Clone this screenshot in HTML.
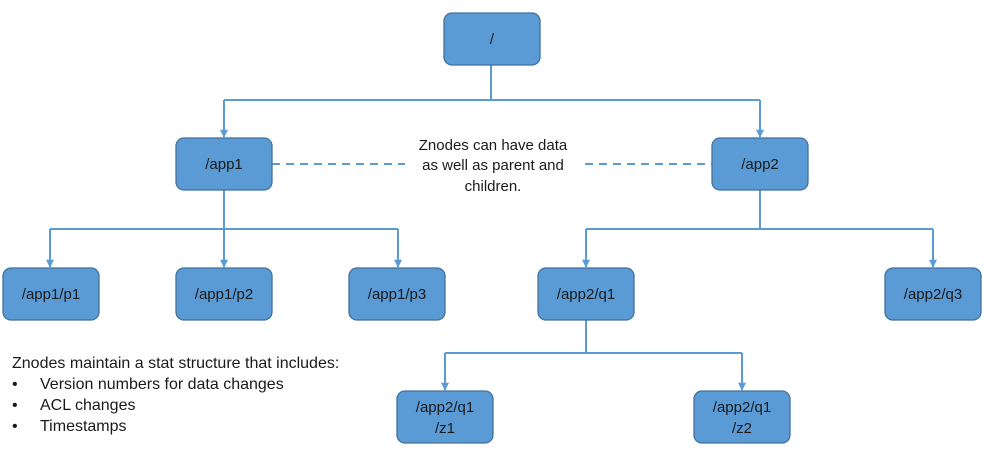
<!DOCTYPE html>
<html><head><meta charset="utf-8"><style>
html,body{margin:0;padding:0;background:#fff;}
svg text{font-family:"Liberation Sans",sans-serif;font-size:15px;fill:#1a1a1a;}
svg text.s{font-size:16px;}
</style></head><body>
<svg width="984" height="469" viewBox="0 0 984 469" xmlns="http://www.w3.org/2000/svg">
<defs>
<marker id="d" viewBox="0 0 10 10" markerWidth="9" markerHeight="8" refX="9" refY="5" orient="auto" markerUnits="userSpaceOnUse"><path d="M0,0 L10,5 L0,10 Z" fill="#5b9bd5"/></marker></defs>
<g stroke="#5b9bd5" stroke-width="2" fill="none">
<path d="M491 65 V100 M224 100 H760"/>
<path d="M224 100 V137" marker-end="url(#d)"/><path d="M760 100 V137" marker-end="url(#d)"/>
<path d="M224 190 V229 M50 229 H398"/>
<path d="M50 229 V267" marker-end="url(#d)"/><path d="M224 229 V267" marker-end="url(#d)"/><path d="M398 229 V267" marker-end="url(#d)"/>
<path d="M760 190 V229 M586 229 H933"/>
<path d="M586 229 V267" marker-end="url(#d)"/><path d="M933 229 V267" marker-end="url(#d)"/>
<path d="M586 320 V353 M445 353 H742"/>
<path d="M445 353 V390" marker-end="url(#d)"/><path d="M742 353 V390" marker-end="url(#d)"/>
<path d="M272 164 H405 M585 164 H712" stroke-dasharray="8,6"/>
</g>
<g fill="#5b9bd5" stroke="#41719c" stroke-width="1.3">
<rect x="444" y="13" width="96" height="52" rx="8"/>
<rect x="176" y="138" width="96" height="52" rx="8"/>
<rect x="712" y="138" width="96" height="52" rx="8"/>
<rect x="3" y="268" width="96" height="52" rx="8"/>
<rect x="176" y="268" width="96" height="52" rx="8"/>
<rect x="349" y="268" width="96" height="52" rx="8"/>
<rect x="538" y="268" width="96" height="52" rx="8"/>
<rect x="885" y="268" width="96" height="52" rx="8"/>
<rect x="397" y="391" width="96" height="52" rx="8"/>
<rect x="694" y="391" width="96" height="52" rx="8"/>
</g>
<g text-anchor="middle">
<text x="492" y="44">/</text>
<text x="224" y="169">/app1</text>
<text x="760" y="169">/app2</text>
<text x="51" y="299">/app1/p1</text>
<text x="224" y="299">/app1/p2</text>
<text x="397" y="299">/app1/p3</text>
<text x="586" y="299">/app2/q1</text>
<text x="933" y="299">/app2/q3</text>
<text x="445" y="412">/app2/q1</text><text x="445" y="433">/z1</text>
<text x="742" y="412">/app2/q1</text><text x="742" y="433">/z2</text>
<text x="493" y="150">Znodes can have data</text>
<text x="493" y="170">as well as parent and</text>
<text x="493" y="191">children.</text>
</g>
<text class="s" x="12" y="368">Znodes maintain a stat structure that includes:</text>
<text class="s" x="12" y="389">•</text><text class="s" x="40" y="389">Version numbers for data changes</text>
<text class="s" x="12" y="410">•</text><text class="s" x="40" y="410">ACL changes</text>
<text class="s" x="12" y="431">•</text><text class="s" x="40" y="431">Timestamps</text>
</svg>
</body></html>
